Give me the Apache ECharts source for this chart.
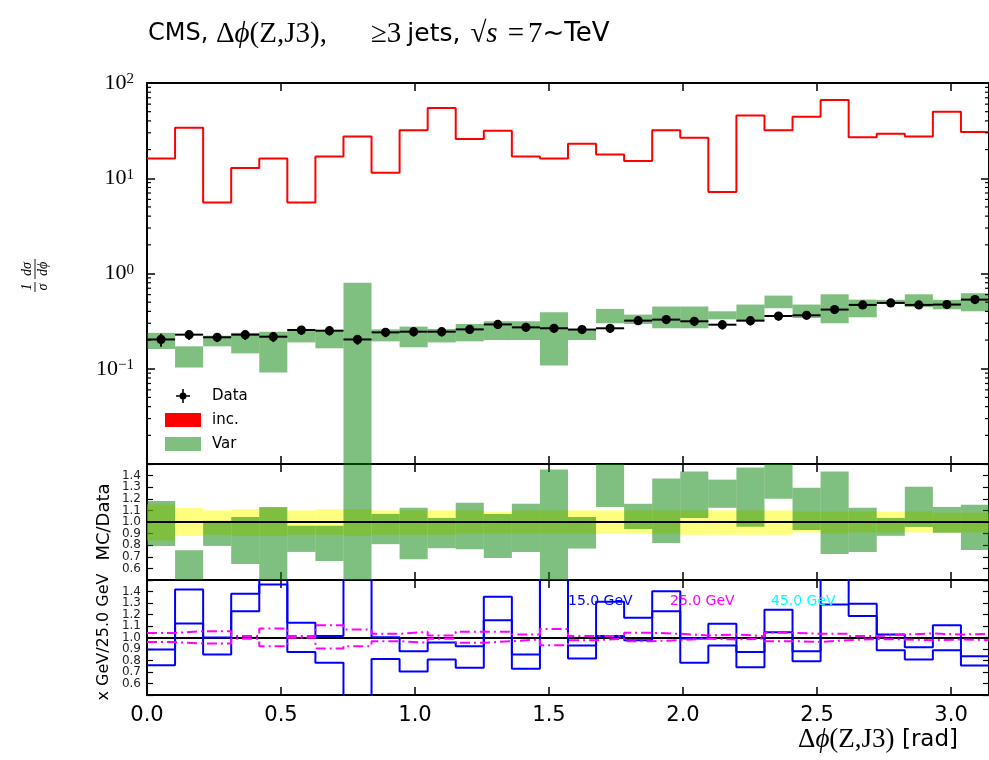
<!DOCTYPE html>
<html>
<head>
<meta charset="utf-8">
<script src="https://cdn.jsdelivr.net/npm/echarts@6/dist/echarts.min.js"></script>
<style>
  html, body { margin: 0; padding: 0; background: #fff; }
  #chart { width: 989px; height: 760px; }
</style>
</head>
<body>
<div id="chart"></div>
<script>
// Δφ(Z,J3) distribution for events with at least three jets, 30 bins over [0, π]
const nBins = 30;
const phiMax = Math.PI;

// normalised cross section, inclusive prediction (red step)
const incValues = [16.1, 33.9, 5.55, 12.8, 16.1, 5.55, 16.9, 27.5, 11.4, 32.0,
                   54.6, 25.9, 31.5, 16.9, 16.1, 23.0, 17.8, 15.2, 32.0, 26.6,
                   7.18, 45.7, 32.0, 44.2, 66.2, 27.0, 29.3, 27.5, 49.9, 30.5];

// measured points
const dataValues = [0.203, 0.228, 0.214, 0.228, 0.217, 0.255, 0.251, 0.203, 0.241, 0.245,
                    0.245, 0.259, 0.292, 0.272, 0.266, 0.258, 0.266, 0.320, 0.328, 0.315,
                    0.290, 0.320, 0.358, 0.364, 0.418, 0.468, 0.491, 0.468, 0.472, 0.532];

// variation envelope (green boxes)
const varLow  = [0.161, 0.103, 0.172, 0.145, 0.0914, 0.189, 0.164, 0.004, 0.194, 0.168,
                 0.189, 0.194, 0.200, 0.200, 0.108, 0.200, 0.300, 0.295, 0.266, 0.266,
                 0.330, 0.315, 0.432, 0.341, 0.300, 0.347, 0.488, 0.443, 0.421, 0.401];
const varHigh = [0.238, 0.172, 0.222, 0.238, 0.245, 0.262, 0.255, 0.80, 0.259, 0.277,
                 0.262, 0.295, 0.315, 0.315, 0.392, 0.258, 0.425, 0.370, 0.450, 0.450,
                 0.401, 0.472, 0.586, 0.472, 0.605, 0.532, 0.529, 0.605, 0.529, 0.621];

// relative data uncertainty (yellow band, also the error bars)
const dataRelUp   = [1.15, 1.12, 1.10, 1.11, 1.12, 1.10, 1.11, 1.11, 1.10, 1.10,
                     1.10, 1.10, 1.09, 1.10, 1.10, 1.10, 1.10, 1.10, 1.10, 1.10,
                     1.10, 1.10, 1.10, 1.09, 1.09, 1.09, 1.09, 1.09, 1.08, 1.08];
const dataRelDown = [0.84, 0.88, 0.89, 0.88, 0.88, 0.89, 0.89, 0.88, 0.89, 0.89,
                     0.89, 0.90, 0.90, 0.90, 0.90, 0.90, 0.90, 0.90, 0.90, 0.89,
                     0.89, 0.89, 0.89, 0.91, 0.90, 0.91, 0.91, 0.91, 0.91, 0.91];

// MC/Data for the variation envelope
const ratioVarLow  = [0.794, 0.40, 0.794, 0.638, 0.42, 0.742, 0.664, 0.20, 0.809, 0.678,
                      0.774, 0.765, 0.690, 0.742, 0.41, 0.771, 1.13, 0.939, 0.820, 1.035,
                      1.122, 0.960, 1.20, 0.930, 0.725, 0.742, 0.881, 0.957, 0.907, 0.759];
const ratioVarHigh = [1.18, 0.757, 1.01, 1.043, 1.13, 0.968, 0.968, 1.80, 1.07, 1.122,
                      1.035, 1.165, 1.07, 1.157, 1.452, 1.043, 1.60, 1.157, 1.374, 1.435,
                      1.365, 1.47, 1.60, 1.296, 1.435, 1.122, 1.035, 1.304, 1.13, 1.148];

// scale variations relative to 25.0 GeV
const blueUpper = [0.896, 1.417, 1.000, 1.380, 1.60, 1.128, 1.012, 1.90, 1.003, 0.881,
                   0.957, 0.925, 1.354, 0.852, 1.70, 0.930, 1.310, 1.171, 1.403, 0.991,
                   1.119, 0.875, 1.241, 0.881, 1.60, 1.293, 1.026, 0.916, 1.107, 0.838];
const blueLower = [0.759, 1.122, 0.852, 1.229, 1.461, 0.875, 0.780, 0.20, 0.814, 0.704,
                   0.809, 0.736, 1.151, 0.728, 1.60, 0.817, 1.012, 0.977, 1.229, 0.780,
                   0.930, 0.742, 1.046, 0.794, 1.287, 1.186, 0.890, 0.809, 0.890, 0.757];
const magentaUpper = [1.040, 1.055, 1.055, 1.012, 1.078, 1.012, 1.107, 1.070, 1.032, 1.049,
                      1.017, 1.049, 1.049, 1.026, 1.075, 1.012, 1.012, 1.041, 1.032, 1.017,
                      1.026, 1.012, 1.041, 1.032, 1.032, 1.012, 1.026, 1.035, 1.026, 1.032];
const magentaLower = [0.960, 0.948, 0.948, 0.990, 0.925, 0.997, 0.904, 0.925, 0.968, 0.954,
                      0.990, 0.954, 0.968, 0.983, 0.933, 0.977, 0.990, 0.968, 0.977, 0.990,
                      0.983, 0.990, 0.968, 0.962, 0.977, 0.986, 0.983, 0.977, 0.983, 0.977];

const scaleLabels = ['15.0 GeV', '25.0 GeV', '45.0 GeV'];

// ---- helpers -------------------------------------------------------------
const edges = Array.from({ length: nBins + 1 }, (_, i) => i * phiMax / nBins);

function stepPoints(vals) {
  const pts = vals.map((v, i) => [edges[i], v]);
  pts.push([edges[nBins], vals[nBins - 1]]);
  return pts;
}
function boxData(lo, hi) {
  return lo.map((l, i) => [edges[i], edges[i + 1], l, hi[i]]);
}
function boxItem(params, api) {
  const p0 = api.coord([api.value(0), api.value(3)]);
  const p1 = api.coord([api.value(1), api.value(2)]);
  return {
    type: 'rect',
    shape: { x: p0[0], y: p0[1], width: p1[0] - p0[0], height: p1[1] - p0[1] },
    style: { fill: api.visual('color') }
  };
}
function dataItem(params, api) {
  const c = api.coord([api.value(0), api.value(1)]);
  const l = api.coord([api.value(2), api.value(1)]);
  const r = api.coord([api.value(3), api.value(1)]);
  const lo = api.coord([api.value(0), api.value(4)]);
  const hi = api.coord([api.value(0), api.value(5)]);
  return {
    type: 'group',
    children: [
      { type: 'line', shape: { x1: l[0], y1: l[1], x2: r[0], y2: r[1] }, style: { stroke: '#000', lineWidth: 2 } },
      { type: 'line', shape: { x1: c[0], y1: lo[1], x2: c[0], y2: hi[1] }, style: { stroke: '#000', lineWidth: 2 } },
      { type: 'circle', shape: { cx: c[0], cy: c[1], r: 4.6 }, style: { fill: '#000' } }
    ]
  };
}
// minor ticks of the log axis (2..9 × 10^k), drawn inward on both frame sides
const logMinorTicks = [];
for (let k = -2; k <= 1; k++) for (let m = 2; m <= 9; m++) logMinorTicks.push([0, m * Math.pow(10, k)]);
function minorTickItem(params, api) {
  const a = api.coord([0, api.value(1)]);
  const b = api.coord([phiMax, api.value(1)]);
  return {
    type: 'group',
    children: [
      { type: 'line', shape: { x1: a[0], y1: a[1], x2: a[0] + 4, y2: a[1] }, style: { stroke: '#000', lineWidth: 1.2 } },
      { type: 'line', shape: { x1: b[0] - 4, y1: b[1], x2: b[0], y2: b[1] }, style: { stroke: '#000', lineWidth: 1.2 } }
    ]
  };
}

const SANS = 'DejaVu Sans';
const SERIF = 'Liberation Serif';
const frameLine = { show: true, onZero: false, lineStyle: { color: '#000', width: 2 } };

function xAxisPair(grid, withLabels) {
  const base = {
    type: 'value', gridIndex: grid, min: 0, max: phiMax, interval: 0.5,
    axisLine: frameLine, splitLine: { show: false },
    axisTick: { inside: true, length: 8, lineStyle: { color: '#000', width: 1.5 } }
  };
  return [
    Object.assign({}, base, {
      position: 'bottom',
      axisLabel: withLabels ? {
        show: true, margin: 10, color: '#000', fontFamily: SANS, fontSize: 21,
        showMaxLabel: false,
        formatter: v => Math.abs(v * 2 - Math.round(v * 2)) > 1e-6 ? '' : v.toFixed(1)
      } : { show: false }
    }),
    Object.assign({}, base, { position: 'top', axisLabel: { show: false } })
  ];
}
function ratioYAxisPair(grid) {
  const base = {
    type: 'value', gridIndex: grid, min: 0.5, max: 1.5, interval: 0.1,
    axisLine: frameLine, splitLine: { show: false },
    axisTick: { inside: true, length: 6, lineStyle: { color: '#000', width: 1.2 } }
  };
  return [
    Object.assign({}, base, {
      position: 'left',
      axisLabel: {
        show: true, margin: 6, color: '#222', fontFamily: SANS, fontSize: 12,
        formatter: v => (v < 0.55 || v > 1.45) ? '' : v.toFixed(1)
      }
    }),
    Object.assign({}, base, { position: 'right', axisLabel: { show: false } })
  ];
}
const logBase = {
  type: 'log', logBase: 10, gridIndex: 0, min: 0.01, max: 100,
  axisLine: frameLine, splitLine: { show: false },
  axisTick: { inside: true, length: 8, lineStyle: { color: '#000', width: 1.5 } }
};

const unityLine = {
  silent: true, symbol: 'none', label: { show: false },
  lineStyle: { color: '#000', width: 2, type: 'solid' },
  data: [{ yAxis: 1 }]
};

const dataPoints = dataValues.map((v, i) => [
  (edges[i] + edges[i + 1]) / 2, v, edges[i], edges[i + 1], v * dataRelDown[i], v * dataRelUp[i]
]);

const dataIcon = 'path://M0,8 h18 v2 h-18 z M8,0 h2 v18 h-2 z M4.5,9 a4.5,4.5 0 1,1 9,0 a4.5,4.5 0 1,1 -9,0 z';

const mathRich = {
  a: { fontFamily: SANS, fontSize: 24, fill: '#000' },
  m: { fontFamily: SERIF, fontSize: 29, fill: '#000' },
  i: { fontFamily: SERIF, fontSize: 29, fontStyle: 'italic', fill: '#000' },
  s: { fontFamily: SERIF, fontSize: 29, fontStyle: 'italic', fill: '#000', padding: [0, 6, 0, 0] },
  g: { fontFamily: SERIF, fontSize: 29, fill: '#000', padding: [0, 0, 0, 44] },
  j: { fontFamily: SANS, fontSize: 25, fill: '#000', padding: [0, 10, 0, 6] },
  q: { fontFamily: SERIF, fontSize: 29, fill: '#000', padding: [0, 4, 0, 4] },
  t: { fontFamily: SANS, fontSize: 26, fill: '#000' }
};

const option = {
  animation: false,
  backgroundColor: '#fff',
  textStyle: { fontFamily: SANS },
  grid: [
    { left: 147, top: 83, width: 842, height: 381 },
    { left: 147, top: 464, width: 842, height: 116 },
    { left: 147, top: 580, width: 842, height: 115 }
  ],
  xAxis: [].concat(xAxisPair(0, false), xAxisPair(1, false), xAxisPair(2, true)),
  yAxis: [
    Object.assign({}, logBase, {
      position: 'left',
      axisLabel: {
        show: true, margin: 13, color: '#000',
        formatter: v => {
          const e = Math.round(Math.log10(v));
          if (e <= -2) return '';
          return '{b|10}{s|' + (e < 0 ? '\u2212' + (-e) : e) + '}';
        },
        rich: {
          b: { fontFamily: SERIF, fontSize: 22, color: '#000', lineHeight: 22 },
          s: { fontFamily: SERIF, fontSize: 15, color: '#000', verticalAlign: 'top', lineHeight: 12 }
        }
      }
    }),
    Object.assign({}, logBase, { position: 'right', axisLabel: { show: false } })
  ].concat(ratioYAxisPair(1), ratioYAxisPair(2)),
  legend: {
    orient: 'vertical', left: 160, top: 383,
    itemWidth: 36, itemHeight: 14, itemGap: 8,
    textStyle: { fontFamily: SANS, fontSize: 15, color: '#000', lineHeight: 16, padding: [0, 0, 0, 6] },
    selectedMode: false,
    data: [
      { name: 'Data', icon: dataIcon },
      { name: 'inc.', icon: 'rect' },
      { name: 'Var', icon: 'rect' }
    ]
  },
  series: [
    // main panel
    {
      name: 'Var', type: 'custom', xAxisIndex: 0, yAxisIndex: 0, clip: true, z: 2,
      itemStyle: { color: 'rgba(0,128,0,0.5)' },
      encode: { x: [0, 1], y: [2, 3] },
      renderItem: boxItem, data: boxData(varLow, varHigh)
    },
    {
      name: 'inc.', type: 'line', xAxisIndex: 0, yAxisIndex: 0, step: 'end', z: 3,
      symbol: 'none', color: '#ff0000', lineStyle: { color: '#ff0000', width: 2 },
      data: stepPoints(incValues)
    },
    {
      name: 'Data', type: 'custom', xAxisIndex: 0, yAxisIndex: 0, clip: true, z: 4,
      itemStyle: { color: '#000' },
      encode: { x: [0, 2, 3], y: [1, 4, 5] },
      renderItem: dataItem, data: dataPoints
    },
    {
      name: 'minor ticks', type: 'custom', xAxisIndex: 0, yAxisIndex: 0, silent: true, z: 5,
      encode: { x: 0, y: 1 }, renderItem: minorTickItem, data: logMinorTicks
    },
    // MC/Data panel
    {
      name: 'data uncertainty', type: 'custom', xAxisIndex: 2, yAxisIndex: 2, clip: true, z: 2,
      itemStyle: { color: 'rgba(255,255,0,0.5)' },
      encode: { x: [0, 1], y: [2, 3] },
      renderItem: boxItem, data: boxData(dataRelDown, dataRelUp)
    },
    {
      name: 'Var ratio', type: 'custom', xAxisIndex: 2, yAxisIndex: 2, clip: true, z: 3,
      itemStyle: { color: 'rgba(0,128,0,0.5)' },
      encode: { x: [0, 1], y: [2, 3] },
      renderItem: boxItem, data: boxData(ratioVarLow, ratioVarHigh),
      markLine: Object.assign({ z: 5 }, unityLine)
    },
    // scale variation panel
    {
      name: '15.0 GeV up', type: 'line', xAxisIndex: 4, yAxisIndex: 4, step: 'end', symbol: 'none',
      lineStyle: { color: '#0000ff', width: 2 }, data: stepPoints(blueUpper), z: 3
    },
    {
      name: '15.0 GeV down', type: 'line', xAxisIndex: 4, yAxisIndex: 4, step: 'end', symbol: 'none',
      lineStyle: { color: '#0000ff', width: 2 }, data: stepPoints(blueLower), z: 3
    },
    {
      name: '25.0 GeV up', type: 'line', xAxisIndex: 4, yAxisIndex: 4, step: 'end', symbol: 'none',
      lineStyle: { color: '#ff00ff', width: 2, type: [10, 4, 2, 4] }, data: stepPoints(magentaUpper), z: 4,
      markLine: Object.assign({ z: 2 }, unityLine)
    },
    {
      name: '25.0 GeV down', type: 'line', xAxisIndex: 4, yAxisIndex: 4, step: 'end', symbol: 'none',
      lineStyle: { color: '#ff00ff', width: 2, type: [10, 4, 2, 4] }, data: stepPoints(magentaLower), z: 4
    }
  ],
  graphic: [
    {
      type: 'text', x: 148, y: 34,
      style: {
        text: '{a|CMS, }{m|Δ}{i|ϕ}{m|(Z,J3),}{g|≥3}{j|jets,}{m|√}{s|s}{q|=}{m|7}{t|~TeV}',
        verticalAlign: 'middle',
        rich: mathRich
      }
    },
    {
      type: 'text', x: 958, y: 740,
      style: {
        text: '{m|Δ}{i|ϕ}{m|(Z,J3)}{a| [rad]}',
        align: 'right', verticalAlign: 'middle',
        rich: {
          a: { fontFamily: SANS, fontSize: 23, fill: '#000' },
          m: { fontFamily: SERIF, fontSize: 27, fill: '#000' },
          i: { fontFamily: SERIF, fontSize: 27, fontStyle: 'italic', fill: '#000' }
        }
      }
    },
    // 1/σ dσ/dφ, read bottom-to-top
    {
      type: 'group', x: 38, y: 276, rotation: Math.PI / 2,
      children: [
        { type: 'text', x: -11, y: -4, style: { text: '1', font: 'italic 14px ' + SERIF, fill: '#000', align: 'center', verticalAlign: 'bottom' } },
        { type: 'line', shape: { x1: -16, y1: -3, x2: -6, y2: -3 }, style: { stroke: '#000', lineWidth: 0.9 } },
        { type: 'text', x: -11, y: -2, style: { text: 'σ', font: 'italic 14px ' + SERIF, fill: '#000', align: 'center', verticalAlign: 'top' } },
        { type: 'text', x: 7, y: -4, style: { text: 'dσ', font: 'italic 14px ' + SERIF, fill: '#000', align: 'center', verticalAlign: 'bottom' } },
        { type: 'line', shape: { x1: -3, y1: -3, x2: 17, y2: -3 }, style: { stroke: '#000', lineWidth: 0.9 } },
        { type: 'text', x: 7, y: -2, style: { text: 'dϕ', font: 'italic 14px ' + SERIF, fill: '#000', align: 'center', verticalAlign: 'top' } }
      ]
    },
    {
      type: 'text', x: 104, y: 522, rotation: Math.PI / 2,
      style: { text: 'MC/Data', font: '18px ' + SANS, fill: '#000', align: 'center', verticalAlign: 'middle' }
    },
    {
      type: 'text', x: 104, y: 637, rotation: Math.PI / 2,
      style: { text: 'x GeV/25.0 GeV', font: '16px ' + SANS, fill: '#000', align: 'center', verticalAlign: 'middle' }
    },
    { type: 'text', x: 568, y: 601, z: 10, style: { text: scaleLabels[0], font: '14px ' + SANS, fill: '#0000ff', verticalAlign: 'middle' } },
    { type: 'text', x: 670, y: 601, z: 10, style: { text: scaleLabels[1], font: '14px ' + SANS, fill: '#ff00ff', verticalAlign: 'middle' } },
    { type: 'text', x: 771, y: 601, z: 10, style: { text: scaleLabels[2], font: '14px ' + SANS, fill: '#00ffff', verticalAlign: 'middle' } }
  ]
};

const chart = echarts.init(document.getElementById('chart'), null, { renderer: 'canvas' });
chart.setOption(option);
</script>
</body>
</html>
